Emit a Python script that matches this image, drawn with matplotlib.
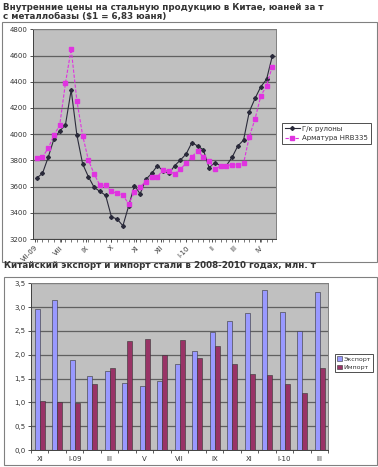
import matplotlib
matplotlib.use("Agg")
import matplotlib.pyplot as plt
from matplotlib.patches import Rectangle
import pandas as pd
import numpy as np

# weekly prices, yuan per tonne
dates = pd.date_range("2009-07-03", periods=42, freq="7D")
hr_coil = [3665, 3700, 3823, 3963, 4024, 4070, 4337, 3991, 3772, 3675, 3594, 3563, 3533, 3370,
           3352, 3301, 3451, 3607, 3545, 3655, 3700, 3759, 3721, 3700, 3759, 3802, 3848, 3935,
           3910, 3880, 3744, 3782, 3760, 3760, 3823, 3910, 3955, 4172, 4273, 4362, 4418, 4596]
rebar = [3818, 3825, 3892, 3993, 4067, 4388, 4650, 4253, 3988, 3802, 3696, 3609, 3609, 3563,
         3548, 3535, 3467, 3556, 3599, 3637, 3675, 3675, 3726, 3720, 3696, 3734, 3777, 3828,
         3870, 3828, 3795, 3734, 3757, 3760, 3767, 3767, 3777, 3981, 4116, 4291, 4370, 4515]
month_ticks = pd.date_range("2009-07-01", periods=10, freq="MS")
month_labels = ["VII-09", "VIII", "IX", "X", "XI", "XII", "I-10", "II", "III", "IV"]

# monthly export / import, mln t (XI-2008 .. III-2010)
months = ["XI", "XII", "I-09", "II", "III", "IV", "V", "VI", "VII", "VIII", "IX", "X",
          "XI", "XII", "I-10", "II", "III"]
export = [2.95, 3.15, 1.90, 1.56, 1.66, 1.41, 1.35, 1.44, 1.80, 2.08, 2.48, 2.70,
          2.87, 3.35, 2.89, 2.49, 3.32]
imports = [1.02, 1.01, 0.99, 1.39, 1.72, 2.28, 2.34, 2.00, 2.30, 1.93, 2.19, 1.81,
           1.59, 1.57, 1.38, 1.19, 1.72]

W, H = 378, 467
fig = plt.figure(figsize=(W / 100, H / 100), dpi=100)
txt = "#333333"

def fx(x):
    return x / W

def fy(y):
    return 1 - y / H

# chart frames
for (x0, y0, x1, y1) in [(2, 22, 377, 262), (4, 277, 377, 465)]:
    fig.patches.append(Rectangle((fx(x0), fy(y1)), fx(x1 - x0), (y1 - y0) / H,
                                 transform=fig.transFigure, facecolor="white",
                                 edgecolor="#808080", lw=0.8, zorder=-10))

fig.text(fx(3), fy(3), "Внутренние цены на стальную продукцию в Китае, юаней за т\nс металлобазы ($1 = 6,83 юаня)",
         ha="left", va="top", fontsize=6.3, fontweight="bold", color=txt, linespacing=1.0)
fig.text(fx(4), fy(261), "Китайский экспорт и импорт стали в 2008-2010 годах, млн. т",
         ha="left", va="top", fontsize=6.3, fontweight="bold", color=txt)

# ---- top: prices
ax1 = fig.add_axes([fx(33), fy(239), fx(275.5 - 33), (239 - 29.3) / H])
ax1.set_facecolor("#c0c0c0")
ax1.plot(dates, hr_coil, color="#2a2a3a", lw=0.8, marker="D", ms=2, label="Г/к рулоны", zorder=3)
ax1.plot(dates, rebar, color="#e033e0", lw=0.8, ls=(0, (3, 1.5)), marker="s", ms=2.6,
         label="Арматура HRB335", zorder=3)
ax1.set_ylim(3200, 4800)
ax1.set_yticks(np.arange(3200, 4801, 200))
ax1.set_xlim(dates[0] - pd.Timedelta(days=4.5), dates[-1] + pd.Timedelta(days=3.9))
ax1.set_xticks(month_ticks)
ax1.set_xticklabels(month_labels, rotation=45, ha="right", rotation_mode="anchor")
ax1.set_xticks(dates, minor=True)
ax1.grid(axis="y", color="#606060", lw=0.9)
ax1.set_axisbelow(True)
ax1.tick_params(axis="both", labelsize=5, colors=txt, length=2.5, width=0.6, pad=1.5)
ax1.tick_params(axis="x", which="minor", length=2, width=0.5, color="#404040")
for s in ax1.spines.values():
    s.set_color("#808080")
    s.set_linewidth(0.7)
ax1.spines["left"].set_color("#404040")
ax1.spines["bottom"].set_color("#404040")
leg1 = fig.legend(*ax1.get_legend_handles_labels(), loc="upper left",
                  bbox_to_anchor=(fx(282), fy(123)), fontsize=5, frameon=True, fancybox=False,
                  borderpad=0.4, handlelength=2.2, handletextpad=0.3, labelspacing=0.5,
                  borderaxespad=0)
leg1.get_frame().set_edgecolor("#222222")
leg1.get_frame().set_linewidth(0.7)
for t in leg1.get_texts():
    t.set_color(txt)

# ---- bottom: trade
ax2 = fig.add_axes([fx(31), fy(450), fx(328.3 - 31), (450 - 283.3) / H])
ax2.set_facecolor("#c0c0c0")
x = np.arange(len(months))
w = 1 / 3.5
ax2.bar(x - w / 2, export, w, color="#9999ff", edgecolor="#333333", lw=0.4, label="Экспорт", zorder=3)
ax2.bar(x + w / 2, imports, w, color="#993366", edgecolor="#333333", lw=0.4, label="Импорт", zorder=3)
ax2.set_xlim(-0.5, len(months) - 0.5)
ax2.set_ylim(0, 3.5)
ax2.set_yticks(np.arange(0, 3.51, 0.5))
ax2.set_yticklabels([f"{v:.1f}".replace(".", ",") for v in np.arange(0, 3.51, 0.5)])
ax2.set_xticks(x[::2])
ax2.set_xticklabels(months[::2])
ax2.set_xticks(np.arange(-0.5, len(months), 1), minor=True)
ax2.grid(axis="y", color="#606060", lw=0.9)
ax2.set_axisbelow(True)
ax2.tick_params(axis="y", labelsize=5, colors=txt, length=2.5, width=0.6, pad=1.5)
ax2.tick_params(axis="x", which="major", labelsize=5, colors=txt, length=0, pad=4)
ax2.tick_params(axis="x", which="minor", length=2.5, width=0.6, color="#404040")
for s in ax2.spines.values():
    s.set_color("#808080")
    s.set_linewidth(0.7)
ax2.spines["left"].set_color("#404040")
ax2.spines["bottom"].set_color("#404040")
leg2 = fig.legend(*ax2.get_legend_handles_labels(), loc="upper left",
                  bbox_to_anchor=(fx(335), fy(354)), fontsize=4.5, frameon=True, fancybox=False,
                  borderpad=0.35, handlelength=0.7, handleheight=0.7, handletextpad=0.3,
                  labelspacing=0.5, borderaxespad=0)
leg2.get_frame().set_edgecolor("#222222")
leg2.get_frame().set_linewidth(0.7)
for t in leg2.get_texts():
    t.set_color(txt)

fig.savefig("out.png", dpi=100)
